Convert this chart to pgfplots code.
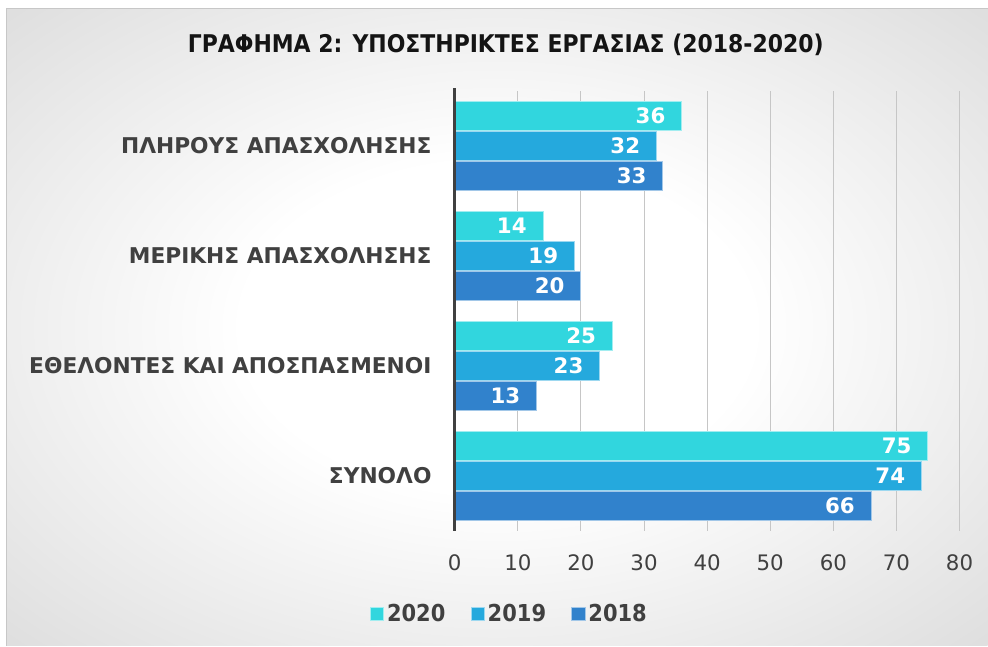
\documentclass[border=0pt]{standalone}
\usepackage{pgfplots}
\pgfplotsset{compat=1.18}
\usepackage{fontspec}
\setmainfont{DejaVu Sans Condensed}[BoldFont={DejaVu Sans Condensed Bold}]
\newfontfamily\wide{DejaVu Sans}
\definecolor{c20}{RGB}{49,214,222}
\definecolor{c19}{RGB}{37,169,221}
\definecolor{c18}{RGB}{49,130,204}
\definecolor{txt}{RGB}{64,64,64}
\definecolor{gridc}{RGB}{198,198,198}
\pgfdeclareradialshading{bgshade}{\pgfpoint{0bp}{0bp}}{color(0bp)=(white); color(13bp)=(white); color(48bp)=(black!20); color(72bp)=(black!25)}
\begin{document}
\begin{tikzpicture}[x=0.75pt,y=0.75pt]
\fill[white] (0,0) rectangle (988,646);
\shade[shading=bgshade] (7,0) rectangle (988,637);
\draw[black!22, line width=0.75pt] (7,0) -- (7,637) -- (988,637);
\node[font=\bfseries\fontsize{18.3}{22}\selectfont, text=black!92] at (506,601) {ΓΡΑΦΗΜΑ 2: ΥΠΟΣΤΗΡΙΚΤΕΣ ΕΡΓΑΣΙΑΣ (2018-2020)};
\begin{axis}[
  at={(341.25pt,86.25pt)}, anchor=south west,
  scale only axis, width=378.75pt, height=330pt,
  xmin=0, xmax=80, ymin=-0.5, ymax=3.5,
  xtick={0,10,...,80}, ytick={0,1,2,3},
  yticklabels={ΣΥΝΟΛΟ, ΕΘΕΛΟΝΤΕΣ ΚΑΙ ΑΠΟΣΠΑΣΜΕΝΟΙ, ΜΕΡΙΚΗΣ ΑΠΑΣΧΟΛΗΣΗΣ, ΠΛΗΡΟΥΣ ΑΠΑΣΧΟΛΗΣΗΣ},
  xmajorgrids, grid style={gridc, line width=0.75pt},
  axis lines*=left, x axis line style={draw=none}, y axis line style={draw=none},
  tick style={draw=none},
  /pgf/number format/assume math mode=true,
  xticklabel style={font=\wide\fontsize{16}{20}\selectfont, text=txt, inner sep=0pt, anchor=north, yshift=-18pt},
  yticklabel style={font=\wide\bfseries\fontsize{16.3}{20}\selectfont, text=txt, inner sep=0pt, anchor=east, xshift=-13pt},
  xbar,
  clip=false,
  nodes near coords,
  every node near coord/.append style={anchor=east, inner sep=0pt, xshift=-12pt, text=white, font=\wide\bfseries\fontsize{16}{20}\selectfont},
  mylegend/.style={legend image code/.code={\draw[##1, line width=0.75pt] (-3pt,-5pt) rectangle (7pt,5pt);}},
  legend style={at={(0.109,-0.189)}, anchor=center, legend columns=3, draw=none, fill=none,
    font=\bfseries\fontsize{17.5}{20}\selectfont, text=txt,
    /tikz/every even column/.append style={column sep=17pt}},
]
\addplot[xbar, mylegend, bar width=0.265, bar shift=0.273, fill=c20, draw=c20!45!white, line width=0.75pt] coordinates {(36,3) (14,2) (25,1) (75,0)};
\addplot[xbar, mylegend, bar width=0.265, bar shift=0, fill=c19, draw=c19!45!white, line width=0.75pt] coordinates {(32,3) (19,2) (23,1) (74,0)};
\addplot[xbar, mylegend, bar width=0.265, bar shift=-0.273, fill=c18, draw=c18!45!white, line width=0.75pt] coordinates {(33,3) (20,2) (13,1) (66,0)};
\legend{2020,2019,2018}
\draw[txt, line width=2.4pt] (axis cs:0,-0.5) -- (axis cs:0,3.53);
\end{axis}
\end{tikzpicture}
\end{document}
